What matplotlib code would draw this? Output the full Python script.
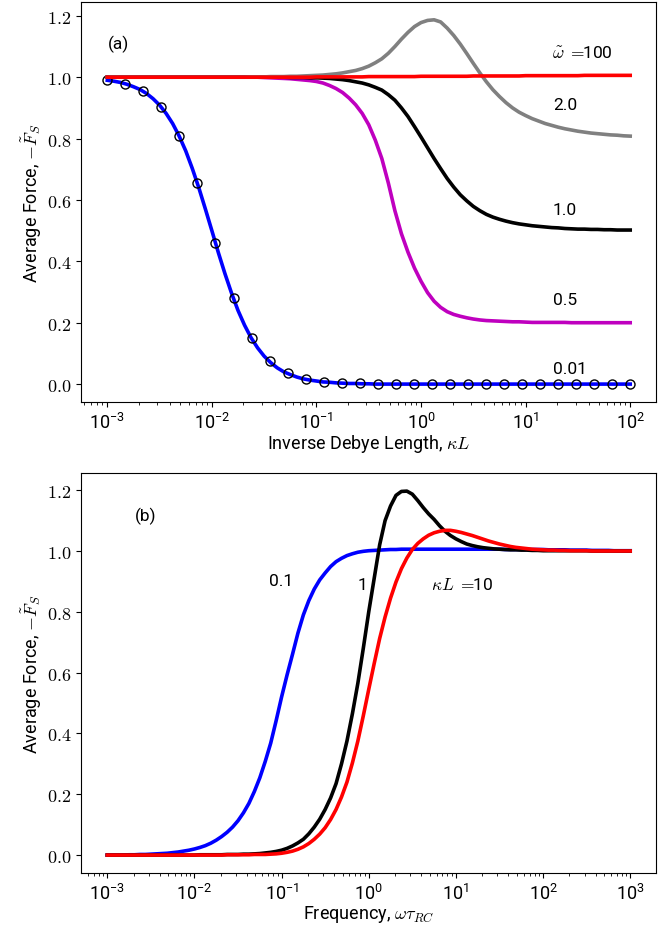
import numpy as np
import matplotlib
matplotlib.use("Agg")
import matplotlib.pyplot as plt
from matplotlib.ticker import FuncFormatter, NullFormatter

plt.rcParams['font.family'] = ['Roboto', 'DejaVu Sans']
plt.rcParams['mathtext.fontset'] = 'cm'

# ---- panel (a): force vs inverse Debye length, one curve per omega ----
# x grid: 1/16 decade from 1e-3 to 1e2
kL = 10.0 ** (np.arange(81) / 16.0 - 3.0)

F_w001 = [0.990, 0.987, 0.983, 0.977, 0.969, 0.960, 0.947, 0.930, 0.909, 0.882,
          0.849, 0.808, 0.760, 0.703, 0.640, 0.571, 0.500, 0.428, 0.360, 0.297,
          0.240, 0.192, 0.151, 0.118, 0.091, 0.070, 0.053, 0.040, 0.031, 0.023,
          0.017, 0.013, 0.010, 0.007, 0.006, 0.004, 0.003, 0.002, 0.002, 0.001,
          0.001] + [0.0] * 40
F_w05 = [1.0] * 24 + [
    0.999, 0.998, 0.997, 0.996, 0.995, 0.993, 0.991, 0.989, 0.986, 0.981,
    0.973, 0.963, 0.950, 0.932, 0.910, 0.882, 0.845, 0.795, 0.735, 0.655,
    0.565, 0.490, 0.430, 0.378, 0.335, 0.298, 0.270, 0.250, 0.236, 0.227,
    0.221, 0.216, 0.212, 0.209, 0.207, 0.206, 0.205, 0.204, 0.203, 0.203,
    0.202] + [0.201] * 6 + [0.200] * 10
F_w1 = [1.0] * 28 + [
    0.999, 0.999, 0.999, 0.998, 0.998, 0.997, 0.996, 0.994, 0.992, 0.989,
    0.985, 0.981, 0.975, 0.967, 0.958, 0.943, 0.925, 0.900, 0.872, 0.839,
    0.805, 0.770, 0.735, 0.702, 0.670, 0.642, 0.617, 0.597, 0.579, 0.565,
    0.553, 0.544, 0.537, 0.531, 0.526, 0.522, 0.519, 0.516, 0.514, 0.512,
    0.510, 0.509, 0.507, 0.506, 0.505, 0.505, 0.504, 0.504, 0.503, 0.503,
    0.502, 0.502, 0.502]
F_w2 = [1.0] * 22 + [
    1.001, 1.001, 1.001, 1.002, 1.002, 1.002, 1.003, 1.003, 1.004, 1.005,
    1.006, 1.007, 1.009, 1.011, 1.014, 1.018, 1.022, 1.028, 1.036, 1.047,
    1.060, 1.078, 1.100, 1.124, 1.146, 1.165, 1.178, 1.185, 1.187, 1.180,
    1.160, 1.136, 1.108, 1.077, 1.045, 1.014, 0.985, 0.959, 0.937, 0.917,
    0.900, 0.886, 0.875, 0.865, 0.857, 0.849, 0.843, 0.837, 0.832, 0.828,
    0.824, 0.821, 0.818, 0.816, 0.814, 0.812, 0.811, 0.809, 0.808]
F_w100 = ([1.0] * 32 + [1.001] * 8 + [1.002] * 8 + [1.003] * 8 + [1.004] * 8
          + [1.005] * 9 + [1.006] * 8)

# open-circle check points on the omega = 0.01 curve
kL_pts = np.logspace(-3, 2, 30)
F_pts = [0.990, 0.978, 0.954, 0.902, 0.807, 0.654, 0.461, 0.279, 0.150, 0.075,
         0.036, 0.017, 0.008, 0.004, 0.002, 0.001] + [0.0] * 14

# ---- panel (b): force vs frequency, one curve per kappa L ----
# x grid: 1/16 decade from 1e-3 to 1e3
w = 10.0 ** (np.arange(97) / 16.0 - 3.0)

F_k01 = [0.0, 0.0, 0.0, 0.0, 0.001, 0.001, 0.002, 0.002, 0.003, 0.004,
         0.005, 0.006, 0.008, 0.010, 0.013, 0.016, 0.020, 0.025, 0.031, 0.039,
         0.049, 0.061, 0.075, 0.092, 0.113, 0.139, 0.170, 0.209, 0.254, 0.308,
         0.368, 0.442, 0.520, 0.592, 0.660, 0.730, 0.790, 0.837, 0.875, 0.905,
         0.928, 0.949, 0.965, 0.976, 0.985, 0.991, 0.996, 0.999, 1.001, 1.002,
         1.003, 1.004, 1.005, 1.005] + ([1.006] * 19 + [1.005] * 8 + [1.004] * 4
                                        + [1.003] * 4 + [1.002] * 4 + [1.001] * 4)
F_k1 = [0.0] * 17 + [
    0.001, 0.001, 0.001, 0.001, 0.001, 0.002, 0.002, 0.002, 0.003, 0.003,
    0.004, 0.005, 0.007, 0.009, 0.012, 0.016, 0.022, 0.030, 0.040, 0.052,
    0.070, 0.092, 0.118, 0.150, 0.188, 0.235, 0.300, 0.375, 0.465, 0.565,
    0.680, 0.800, 0.910, 1.020, 1.100, 1.148, 1.183, 1.196, 1.197, 1.187,
    1.166, 1.143, 1.122, 1.104, 1.083, 1.065, 1.051, 1.040, 1.031, 1.023,
    1.018, 1.014, 1.011, 1.009, 1.007, 1.006, 1.005, 1.004, 1.004, 1.003,
    1.003, 1.002, 1.002, 1.001] + [1.001] * 8 + [1.0] * 8
F_k10 = [0.0] * 22 + [
    0.001, 0.001, 0.001, 0.001, 0.001, 0.002, 0.002, 0.002, 0.003, 0.004,
    0.006, 0.009, 0.013, 0.019, 0.027, 0.038, 0.052, 0.069, 0.090, 0.117,
    0.150, 0.191, 0.240, 0.303, 0.375, 0.458, 0.545, 0.630, 0.712, 0.783,
    0.845, 0.898, 0.942, 0.977, 1.005, 1.025, 1.040, 1.052, 1.060, 1.065,
    1.068, 1.068, 1.065, 1.061, 1.056, 1.051, 1.045, 1.039, 1.033, 1.028,
    1.023, 1.019, 1.015, 1.012, 1.010, 1.008, 1.006, 1.005, 1.004, 1.003,
    1.003, 1.002, 1.002] + [1.001] * 4 + [1.0] * 8

xticks_a = [1e-3, 1e-2, 1e-1, 1e0, 1e1, 1e2]
xticks_b = [1e-3, 1e-2, 1e-1, 1e0, 1e1, 1e2, 1e3]
yticks = [0.0, 0.2, 0.4, 0.6, 0.8, 1.0, 1.2]

fig = plt.figure(figsize=(6.65, 9.28), dpi=100)
ax1 = fig.add_axes([0.122, 0.5654, 0.865, 0.4318])
ax2 = fig.add_axes([0.122, 0.0579, 0.865, 0.4314])

lw = 2.6
ax1.plot(kL, F_w001, color='b', lw=lw)
ax1.plot(kL_pts, F_pts, 'o', mfc='none', mec='k', mew=1.0, ms=6.5)
ax1.plot(kL, F_w05, color='m', lw=lw)
ax1.plot(kL, F_w1, color='k', lw=lw)
ax1.plot(kL, F_w2, color='gray', lw=lw)
ax1.plot(kL, F_w100, color='r', lw=lw)

ax2.plot(w, F_k01, color='b', lw=lw)
ax2.plot(w, F_k1, color='k', lw=lw)
ax2.plot(w, F_k10, color='r', lw=lw)

yfmt = FuncFormatter(lambda v, p: r"$%.1f$" % v)
for ax, xt in ((ax1, xticks_a), (ax2, xticks_b)):
    ax.set_xscale('log')
    ax.set_xticks(xt)
    ax.xaxis.set_minor_formatter(NullFormatter())
    ax.set_yticks(yticks)
    ax.yaxis.set_major_formatter(yfmt)
    ax.tick_params(labelsize=13)
    ax.set_ylabel(r"Average Force, $-\tilde{F}_S$", fontsize=13, labelpad=2)

ax1.set_xlabel(r"Inverse Debye Length, $\kappa L$", fontsize=13, labelpad=0)
ax2.set_xlabel(r"Frequency, $\omega\tau_{RC}$", fontsize=13, labelpad=0)

tk = dict(fontsize=12.5, va='center', ha='left')
ax1.text(0.047, 0.895, "(a)", transform=ax1.transAxes, **tk)
ax1.text(0.818, 0.871, r"$\tilde{\omega}\ =\!\!$100", transform=ax1.transAxes, **tk)
ax1.text(0.82, 0.743, "2.0", transform=ax1.transAxes, **tk)
ax1.text(0.82, 0.48, "1.0", transform=ax1.transAxes, **tk)
ax1.text(0.82, 0.257, "0.5", transform=ax1.transAxes, **tk)
ax1.text(0.82, 0.085, "0.01", transform=ax1.transAxes, **tk)

ax2.text(0.094, 0.893, "(b)", transform=ax2.transAxes, **tk)
ax2.text(0.326, 0.731, "0.1", transform=ax2.transAxes, **tk)
ax2.text(0.48, 0.722, "1", transform=ax2.transAxes, **tk)
ax2.text(0.609, 0.722, r"$\kappa L\ =\!\!$10", transform=ax2.transAxes, **tk)

fig.savefig("out.png", dpi=100)
